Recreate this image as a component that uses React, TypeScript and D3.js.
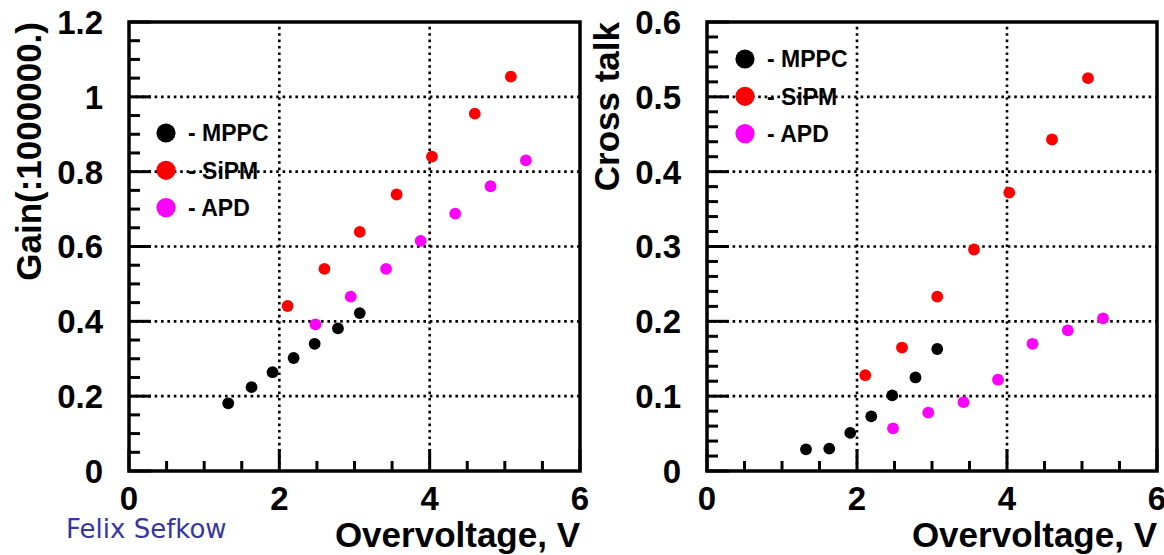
import * as d3 from "d3";

// Overvoltage values (V) shared by both panels
const mppcV = [1.32, 1.63, 1.91, 2.19, 2.47, 2.78, 3.07];
const sipmV = [2.11, 2.6, 3.07, 3.56, 4.03, 4.6, 5.08];
const apdV = [2.48, 2.95, 3.42, 3.88, 4.34, 4.81, 5.28];

// Gain (x 10^6)
const mppcGain = [0.181, 0.224, 0.264, 0.302, 0.34, 0.381, 0.422];
const sipmGain = [0.441, 0.54, 0.639, 0.739, 0.84, 0.955, 1.054];
const apdGain = [0.392, 0.466, 0.54, 0.615, 0.688, 0.761, 0.83];

// Cross talk
const mppcXt = [0.029, 0.03, 0.051, 0.073, 0.101, 0.125, 0.163];
const sipmXt = [0.128, 0.165, 0.233, 0.296, 0.372, 0.443, 0.525];
const apdXt = [0.057, 0.078, 0.092, 0.122, 0.17, 0.188, 0.204];

const xTicks = [0, 2, 4, 6];
const gainTicks = [0, 0.2, 0.4, 0.6, 0.8, 1, 1.2];
const xtTicks = [0, 0.1, 0.2, 0.3, 0.4, 0.5, 0.6];

const seriesNames = ["MPPC", "SiPM", "APD"];
const seriesColors = ["#000000", "#ff0000", "#ff00ff"];

const FONT = "'Liberation Sans', Arial, Helvetica, sans-serif";

type PanelProps = {
  left: number;
  right: number;
  yMax: number;
  yTicks: number[];
  yMinorStep: number;
  yTitle: string;
  titleX: number;
  ys: number[][];
  legendX: number;
  legendY: number;
};

function Panel(p: PanelProps) {
  const top = 22,
    bottom = 471;

  const x = d3.scaleLinear().domain([0, 6]).range([p.left, p.right]);
  const y = d3.scaleLinear().domain([0, p.yMax]).range([bottom, top]);

  const xMinor = d3.range(0, 6.001, 0.5);
  const yMinor = d3.range(0, p.yMax + 1e-6, p.yMinorStep);
  const xs = [mppcV, sipmV, apdV];

  // grid lines (dotted) except at the frame edges
  const gridX = xTicks.filter((t) => t > 0 && t < 6);
  const gridY = p.yTicks.filter((t) => t > 0 && t < p.yMax);

  return (
    <g>
      {gridX.map((t) => (
        <line
          key={"gx" + t}
          x1={x(t)}
          x2={x(t)}
          y1={bottom}
          y2={top}
          stroke="#000"
          strokeWidth={2.6}
          strokeDasharray="2.6,3.8"
        />
      ))}
      {gridY.map((t) => (
        <line
          key={"gy" + t}
          x1={p.left}
          x2={p.right}
          y1={y(t)}
          y2={y(t)}
          stroke="#000"
          strokeWidth={2.6}
          strokeDasharray="2.6,3.8"
        />
      ))}

      {/* minor + major ticks */}
      {yMinor.map((t, i) => {
        const major = p.yTicks.some((m) => Math.abs(m - t) < 1e-6);
        return (
          <line
            key={"yt" + i}
            x1={p.left}
            x2={p.left + (major ? 22 : 11)}
            y1={y(t)}
            y2={y(t)}
            stroke="#000"
            strokeWidth={3}
          />
        );
      })}
      {xMinor.map((t, i) => {
        const major = xTicks.includes(t);
        return (
          <line
            key={"xt" + i}
            x1={x(t)}
            x2={x(t)}
            y1={bottom}
            y2={bottom - (major ? 22 : 10)}
            stroke="#000"
            strokeWidth={3}
          />
        );
      })}

      <rect
        x={p.left}
        y={top}
        width={p.right - p.left}
        height={bottom - top}
        fill="none"
        stroke="#000"
        strokeWidth={3.5}
      />

      {/* tick labels */}
      {p.yTicks.map((t) => (
        <text
          key={"yl" + t}
          x={p.left - 26}
          y={y(t)}
          dy="0.36em"
          textAnchor="end"
          fontFamily={FONT}
          fontWeight="bold"
          fontSize={33}
        >
          {String(t)}
        </text>
      ))}
      {xTicks.map((t) => (
        <text
          key={"xl" + t}
          x={x(t)}
          y={bottom + 39}
          textAnchor="middle"
          fontFamily={FONT}
          fontWeight="bold"
          fontSize={33}
        >
          {String(t)}
        </text>
      ))}

      {/* axis titles */}
      <text
        x={p.right}
        y={547}
        textAnchor="end"
        fontFamily={FONT}
        fontWeight="bold"
        fontSize={35}
      >
        Overvoltage, V
      </text>
      <text
        transform={`translate(${p.titleX},${top}) rotate(-90)`}
        textAnchor="end"
        fontFamily={FONT}
        fontWeight="bold"
        fontSize={35}
      >
        {p.yTitle}
      </text>

      {/* legend */}
      {seriesNames.map((name, i) => (
        <g key={name}>
          <circle
            cx={p.legendX}
            cy={p.legendY + i * 37.3}
            r={9.6}
            fill={seriesColors[i]}
          />
          <text
            x={p.legendX + 22}
            y={p.legendY + i * 37.3}
            dy="0.36em"
            fontFamily={FONT}
            fontWeight="bold"
            fontSize={23}
          >
            {"- " + name}
          </text>
        </g>
      ))}

      {/* data */}
      {p.ys.map((vals, s) =>
        vals.map((v, i) => (
          <circle
            key={s + "-" + i}
            cx={x(xs[s][i])}
            cy={y(v)}
            r={5.9}
            fill={seriesColors[s]}
          />
        ))
      )}
    </g>
  );
}

export default function App() {
  return (
    <div style={{ position: "absolute", left: 0, top: 0 }}>
      <svg width={1164} height={555} style={{ display: "block", background: "#fff" }}>
        <Panel
          left={129}
          right={580}
          yMax={1.2}
          yTicks={gainTicks}
          yMinorStep={0.05}
          yTitle="Gain(:1000000.)"
          titleX={41}
          ys={[mppcGain, sipmGain, apdGain]}
          legendX={166}
          legendY={133}
        />
        <Panel
          left={707}
          right={1157}
          yMax={0.6}
          yTicks={xtTicks}
          yMinorStep={0.02}
          yTitle="Cross talk"
          titleX={619}
          ys={[mppcXt, sipmXt, apdXt]}
          legendX={745}
          legendY={59}
        />
        <text
          x={66}
          y={538}
          fontFamily="'DejaVu Sans', sans-serif"
          fontSize={26}
          fill="#3636a2"
        >
          Felix Sefkow
        </text>
      </svg>
    </div>
  );
}
